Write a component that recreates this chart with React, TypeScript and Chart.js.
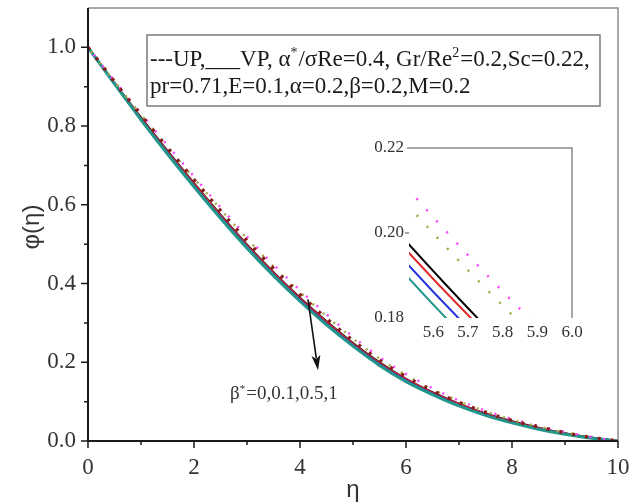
import React, { useEffect, useRef } from "react";
import { Chart, registerables } from "chart.js";

Chart.register(...registerables);

// ---------- data ----------
const eta = [0, 0.5, 1, 1.5, 2, 2.5, 3, 3.5, 4, 4.5, 5, 5.5, 6, 6.5, 7, 7.5, 8, 8.5, 9, 9.5, 10];

// VP (solid) profiles, beta* = 0, 0.1, 0.5, 1
const vpBeta0 = [1.0, 0.91, 0.822, 0.737, 0.655, 0.575, 0.499, 0.429, 0.364, 0.304, 0.249, 0.2, 0.158, 0.124, 0.095, 0.07, 0.05, 0.034, 0.02, 0.009, 0.0];
const vpBeta01 = [1.0, 0.909, 0.82, 0.735, 0.653, 0.573, 0.497, 0.427, 0.362, 0.302, 0.247, 0.198, 0.157, 0.123, 0.094, 0.069, 0.049, 0.033, 0.019, 0.008, 0.0];
const vpBeta05 = [1.0, 0.908, 0.818, 0.732, 0.649, 0.569, 0.493, 0.423, 0.358, 0.298, 0.244, 0.195, 0.154, 0.12, 0.091, 0.067, 0.047, 0.031, 0.018, 0.008, 0.0];
const vpBeta1 = [1.0, 0.907, 0.816, 0.729, 0.646, 0.566, 0.49, 0.42, 0.355, 0.295, 0.241, 0.192, 0.151, 0.118, 0.089, 0.065, 0.046, 0.03, 0.017, 0.007, 0.0];

// UP (dotted) profiles
const upDarkRed = [1.0, 0.913, 0.828, 0.745, 0.664, 0.585, 0.509, 0.438, 0.372, 0.311, 0.255, 0.205, 0.163, 0.128, 0.098, 0.073, 0.052, 0.036, 0.021, 0.009, 0.0];
const upMagenta = [1.0, 0.915, 0.832, 0.751, 0.672, 0.594, 0.519, 0.448, 0.383, 0.322, 0.265, 0.213, 0.17, 0.134, 0.103, 0.077, 0.056, 0.038, 0.023, 0.01, 0.0];
const upOlive = [1.0, 0.913, 0.829, 0.747, 0.667, 0.589, 0.514, 0.443, 0.378, 0.317, 0.26, 0.209, 0.167, 0.131, 0.101, 0.075, 0.054, 0.037, 0.022, 0.01, 0.0];

// ticks
const xMajorTicks = [0, 2, 4, 6, 8, 10];
const xMinorTicks = [1, 3, 5, 7, 9];
const yMajorTicks = [0, 0.2, 0.4, 0.6, 0.8, 1.0];
const yMinorTicks = [0.1, 0.3, 0.5, 0.7, 0.9];
const insetXTicks = [5.6, 5.7, 5.8, 5.9, 6.0];
const insetYTicks = [0.18, 0.2, 0.22];

// annotation text
const arrowLabel = [{ t: "β" }, { t: "*", sup: true }, { t: "=0,0.1,0.5,1" }];
const legendLine1 = [
  { t: "---UP,___VP, α" }, { t: "*", sup: true }, { t: "/σRe=0.4, Gr/Re" }, { t: "2", sup: true }, { t: "=0.2,Sc=0.22," },
];
const legendLine2 = [{ t: "pr=0.71,E=0.1,α=0.2,β=0.2,M=0.2" }];

const SERIF = "'Liberation Serif', 'Times New Roman', serif";
const SANS = "'Liberation Sans', Arial, sans-serif";

type Part = { t: string; sup?: boolean };

function drawRich(ctx: CanvasRenderingContext2D, x: number, y: number, parts: Part[], size: number, color: string) {
  ctx.save();
  ctx.fillStyle = color;
  ctx.textBaseline = "alphabetic";
  ctx.textAlign = "left";
  let cx = x;
  for (const p of parts) {
    if (p.sup) {
      ctx.font = `${Math.round(size * 0.6)}px ${SERIF}`;
      ctx.fillText(p.t, cx, y - size * 0.38);
      cx += ctx.measureText(p.t).width + 1;
    } else {
      ctx.font = `${size}px ${SERIF}`;
      ctx.fillText(p.t, cx, y);
      cx += ctx.measureText(p.t).width;
    }
  }
  ctx.restore();
}

const pts = (arr: number[]) => eta.map((x, i) => ({ x, y: arr[i] }));

const noPad = (s: any) => {
  s.paddingLeft = 0;
  s.paddingRight = 0;
  s.paddingTop = 0;
  s.paddingBottom = 0;
};

const mainDecor = {
  id: "mainDecor",
  afterDraw(chart: any) {
    const { ctx, chartArea: a, scales } = chart;
    const xs = scales.x;
    const ys = scales.y;
    ctx.save();
    // top & right frame
    ctx.strokeStyle = "#8a8a8a";
    ctx.lineWidth = 1.5;
    ctx.beginPath();
    ctx.moveTo(a.left, a.top);
    ctx.lineTo(a.right, a.top);
    ctx.lineTo(a.right, a.bottom);
    ctx.stroke();
    // axes
    ctx.strokeStyle = "#1a1a1a";
    ctx.lineWidth = 2;
    ctx.beginPath();
    ctx.moveTo(a.left, a.top);
    ctx.lineTo(a.left, a.bottom);
    ctx.lineTo(a.right, a.bottom);
    ctx.stroke();
    // ticks
    ctx.lineWidth = 1.5;
    ctx.beginPath();
    for (const v of yMajorTicks) {
      const y = ys.getPixelForValue(v);
      ctx.moveTo(a.left - 7, y);
      ctx.lineTo(a.left, y);
    }
    for (const v of yMinorTicks) {
      const y = ys.getPixelForValue(v);
      ctx.moveTo(a.left - 4, y);
      ctx.lineTo(a.left, y);
    }
    for (const v of xMajorTicks) {
      const x = xs.getPixelForValue(v);
      ctx.moveTo(x, a.bottom);
      ctx.lineTo(x, a.bottom + 7);
    }
    for (const v of xMinorTicks) {
      const x = xs.getPixelForValue(v);
      ctx.moveTo(x, a.bottom);
      ctx.lineTo(x, a.bottom + 4);
    }
    ctx.stroke();

    // legend box
    ctx.strokeStyle = "#7a7a7a";
    ctx.lineWidth = 1.5;
    ctx.strokeRect(147, 35, 453, 71);
    drawRich(ctx, 150, 66, legendLine1, 23, "#1a1a1a");
    drawRich(ctx, 150, 93, legendLine2, 23, "#1a1a1a");

    // arrow
    const x1 = xs.getPixelForValue(4.15);
    const y1 = ys.getPixelForValue(0.36);
    const x2 = xs.getPixelForValue(4.34);
    const y2 = ys.getPixelForValue(0.18);
    ctx.strokeStyle = "#111";
    ctx.fillStyle = "#111";
    ctx.lineWidth = 1.6;
    const ang = Math.atan2(y2 - y1, x2 - x1);
    const hl = 15;
    const hw = 4.5;
    ctx.beginPath();
    ctx.moveTo(x1, y1);
    ctx.lineTo(x2 - Math.cos(ang) * hl * 0.8, y2 - Math.sin(ang) * hl * 0.8);
    ctx.stroke();
    ctx.beginPath();
    ctx.moveTo(x2, y2);
    ctx.lineTo(x2 - Math.cos(ang) * hl - Math.sin(ang) * hw, y2 - Math.sin(ang) * hl + Math.cos(ang) * hw);
    ctx.lineTo(x2 - Math.cos(ang) * hl * 0.75, y2 - Math.sin(ang) * hl * 0.75);
    ctx.lineTo(x2 - Math.cos(ang) * hl + Math.sin(ang) * hw, y2 - Math.sin(ang) * hl - Math.cos(ang) * hw);
    ctx.closePath();
    ctx.fill();

    drawRich(ctx, xs.getPixelForValue(2.68), ys.getPixelForValue(0.107), arrowLabel, 19, "#333");

    // axis titles
    ctx.fillStyle = "#333";
    ctx.font = `24px ${SANS}`;
    ctx.textAlign = "center";
    ctx.textBaseline = "middle";
    ctx.fillText("η", (a.left + a.right) / 2, 490);
    ctx.save();
    ctx.translate(32, 227);
    ctx.rotate(-Math.PI / 2);
    ctx.fillText("φ(η)", 0, 0);
    ctx.restore();

    ctx.restore();
  },
};

const insetDecor = {
  id: "insetDecor",
  afterDraw(chart: any) {
    const { ctx, chartArea: a, scales } = chart;
    ctx.save();
    ctx.strokeStyle = "#8a8a8a";
    ctx.lineWidth = 1.5;
    ctx.beginPath();
    ctx.moveTo(a.left - 2, a.top);
    ctx.lineTo(a.right, a.top);
    ctx.lineTo(a.right, a.bottom);
    ctx.stroke();
    const y = scales.y.getPixelForValue(0.2);
    ctx.beginPath();
    ctx.moveTo(a.left - 4, y);
    ctx.lineTo(a.left, y);
    ctx.stroke();
    ctx.restore();
  },
};

export default function App() {
  const mainRef = useRef<HTMLCanvasElement>(null);
  const insetRef = useRef<HTMLCanvasElement>(null);

  useEffect(() => {
    const tickFontMain = { family: SERIF, size: 23 };
    const mainChart = new Chart(mainRef.current as HTMLCanvasElement, {
      type: "line",
      data: {
        datasets: [
          { label: "UP a", data: pts(upDarkRed), borderColor: "#8b1a1a", borderWidth: 3.5, borderDash: [3, 10], borderCapStyle: "butt", pointRadius: 0, cubicInterpolationMode: "monotone" },
          { label: "UP b", data: pts(upMagenta), borderColor: "#ff44ff", borderWidth: 2.5, borderDash: [2, 12], borderDashOffset: 5, pointRadius: 0, cubicInterpolationMode: "monotone" },
          { label: "UP c", data: pts(upOlive), borderColor: "#a5a548", borderWidth: 2.5, borderDash: [2, 12], borderDashOffset: 9, pointRadius: 0, cubicInterpolationMode: "monotone" },
          { label: "VP β*=1", data: pts(vpBeta1), borderColor: "#23968a", borderWidth: 3, pointRadius: 0, cubicInterpolationMode: "monotone" },
          { label: "VP β*=0.5", data: pts(vpBeta05), borderColor: "#2233dd", borderWidth: 2, pointRadius: 0, cubicInterpolationMode: "monotone" },
          { label: "VP β*=0.1", data: pts(vpBeta01), borderColor: "#e02828", borderWidth: 2, pointRadius: 0, cubicInterpolationMode: "monotone" },
          { label: "VP β*=0", data: pts(vpBeta0), borderColor: "#000000", borderWidth: 2, pointRadius: 0, cubicInterpolationMode: "monotone" },
        ],
      },
      options: {
        responsive: false,
        animation: false,
        events: [],
        layout: { padding: { left: 0, top: 8, right: 12, bottom: 0 } },
        plugins: { legend: { display: false }, tooltip: { enabled: false } },
        scales: {
          x: {
            type: "linear",
            min: 0,
            max: 10,
            afterFit: (s: any) => { s.height = 63; noPad(s); },
            afterBuildTicks: (s: any) => { s.ticks = xMajorTicks.map((v) => ({ value: v })); },
            grid: { display: false, drawTicks: false },
            border: { display: false },
            ticks: { font: tickFontMain, color: "#333", padding: 13, maxRotation: 0, callback: (v: any) => String(v) },
          },
          y: {
            type: "linear",
            min: 0,
            max: 1.1,
            afterFit: (s: any) => { s.width = 88; noPad(s); },
            afterBuildTicks: (s: any) => { s.ticks = yMajorTicks.map((v) => ({ value: v })); },
            grid: { display: false, drawTicks: false },
            border: { display: false },
            ticks: { font: tickFontMain, color: "#333", padding: 12, callback: (v: any) => Number(v).toFixed(1) },
          },
        },
      },
      plugins: [mainDecor],
    } as any);

    const tickFontInset = { family: SERIF, size: 17 };
    const insetChart = new Chart(insetRef.current as HTMLCanvasElement, {
      type: "line",
      data: {
        datasets: [
          { label: "UP b", data: pts(upMagenta), borderColor: "#ff44ff", borderWidth: 2.5, borderDash: [2, 13], borderDashOffset: 3, pointRadius: 0, cubicInterpolationMode: "monotone" },
          { label: "UP c", data: pts(upOlive), borderColor: "#a5a548", borderWidth: 2.5, borderDash: [2, 13], borderDashOffset: 3, pointRadius: 0, cubicInterpolationMode: "monotone" },
          { label: "VP β*=1", data: pts(vpBeta1), borderColor: "#23968a", borderWidth: 2, pointRadius: 0, cubicInterpolationMode: "monotone" },
          { label: "VP β*=0.5", data: pts(vpBeta05), borderColor: "#2233dd", borderWidth: 2, pointRadius: 0, cubicInterpolationMode: "monotone" },
          { label: "VP β*=0.1", data: pts(vpBeta01), borderColor: "#e02828", borderWidth: 2, pointRadius: 0, cubicInterpolationMode: "monotone" },
          { label: "VP β*=0", data: pts(vpBeta0), borderColor: "#000000", borderWidth: 2, pointRadius: 0, cubicInterpolationMode: "monotone" },
        ],
      },
      options: {
        responsive: false,
        animation: false,
        events: [],
        layout: { padding: { left: 0, top: 148, right: 58, bottom: 0 } },
        plugins: { legend: { display: false }, tooltip: { enabled: false } },
        scales: {
          x: {
            type: "linear",
            min: 5.53,
            max: 6.0,
            afterFit: (s: any) => { s.height = 186; noPad(s); },
            afterBuildTicks: (s: any) => { s.ticks = insetXTicks.map((v) => ({ value: v })); },
            grid: { display: false, drawTicks: false },
            border: { display: false },
            ticks: { font: tickFontInset, color: "#333", padding: 4, maxRotation: 0, callback: (v: any) => Number(v).toFixed(1) },
          },
          y: {
            type: "linear",
            min: 0.18,
            max: 0.22,
            afterFit: (s: any) => { s.width = 409; noPad(s); },
            afterBuildTicks: (s: any) => { s.ticks = insetYTicks.map((v) => ({ value: v })); },
            grid: { display: false, drawTicks: false },
            border: { display: false },
            ticks: { font: tickFontInset, color: "#333", padding: 5, callback: (v: any) => Number(v).toFixed(2) },
          },
        },
      },
      plugins: [insetDecor],
    } as any);

    return () => {
      mainChart.destroy();
      insetChart.destroy();
    };
  }, []);

  return (
    <div style={{ position: "absolute", left: 0, top: 0, width: 630, height: 504, background: "#fff" }}>
      <canvas ref={mainRef} width={630} height={504} style={{ position: "absolute", left: 0, top: 0 }} />
      <canvas ref={insetRef} width={630} height={504} style={{ position: "absolute", left: 0, top: 0 }} />
    </div>
  );
}
